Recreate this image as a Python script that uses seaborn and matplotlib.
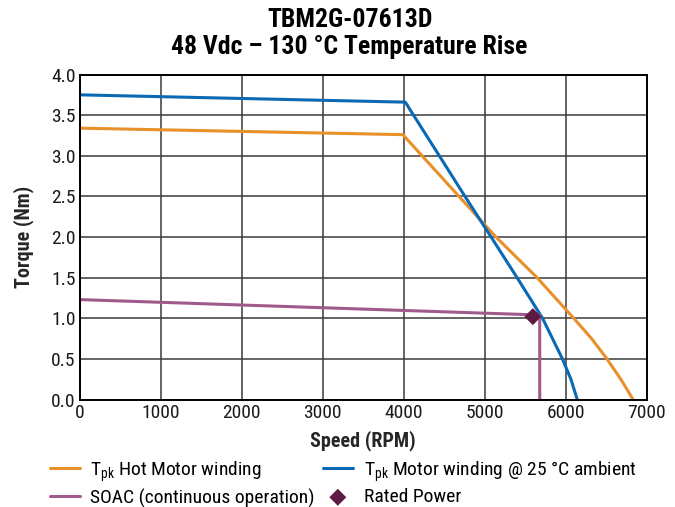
import matplotlib
matplotlib.use("Agg")
import matplotlib.pyplot as plt
import seaborn as sns
import pandas as pd

# Courbes couple / vitesse
hot_speed = [0, 3990, 5140, 5647, 6100, 6320, 6510, 6680, 6760, 6832]
hot_torque = [3.34, 3.26, 2.0, 1.5, 1.0, 0.75, 0.5, 0.25, 0.12, 0.0]

amb_speed = [0, 4020, 4440, 4757, 5080, 5400, 5715, 5960, 6065, 6143]
amb_torque = [3.75, 3.66, 3.0, 2.5, 2.0, 1.5, 1.0, 0.5, 0.25, 0.0]

soac_speed = [0, 5680, 5680]
soac_torque = [1.23, 1.04, 0.0]

rated_speed = [5595]
rated_torque = [1.02]

labels = [
    r"T$_{\mathregular{pk}}$ Hot Motor winding",
    r"T$_{\mathregular{pk}}$ Motor winding @ 25 °C ambient",
    "SOAC (continuous operation)",
    "Rated Power",
]

sns.set_theme(style="white")
plt.rcParams["font.family"] = ["Roboto Condensed", "Liberation Sans Narrow",
                               "Roboto", "DejaVu Sans"]
plt.rcParams["text.color"] = "black"

fig = plt.figure(figsize=(6.75, 5.07), dpi=100)
ax = fig.add_axes([0.118, 0.212, 0.840, 0.641])

hot = pd.DataFrame({"Speed": hot_speed, "Torque": hot_torque})
amb = pd.DataFrame({"Speed": amb_speed, "Torque": amb_torque})
soac = pd.DataFrame({"Speed": soac_speed, "Torque": soac_torque})
rated = pd.DataFrame({"Speed": rated_speed, "Torque": rated_torque})

sns.lineplot(data=hot, x="Speed", y="Torque", color="#e8902a", lw=2.2,
             sort=False, estimator=None, ax=ax, label=labels[0])
sns.lineplot(data=amb, x="Speed", y="Torque", color="#0a69b4", lw=2.2,
             sort=False, estimator=None, ax=ax, label=labels[1])
sns.lineplot(data=soac, x="Speed", y="Torque", color="#a05a8c", lw=2.2,
             sort=False, estimator=None, ax=ax, label=labels[2])
sns.scatterplot(data=rated, x="Speed", y="Torque", color="#5e1a42", marker="D",
                s=75, edgecolor="none", ax=ax, label=labels[3], zorder=5)

ax.set_xlim(0, 7000)
ax.set_ylim(0, 4.0)
ax.set_xticks(range(0, 7001, 1000))
ax.set_yticks([i * 0.5 for i in range(9)])
ax.set_yticklabels([f"{i * 0.5:.1f}" for i in range(9)])
ax.grid(True, color="#3a3a3a", lw=1.1)
ax.set_axisbelow(True)
for s in ax.spines.values():
    s.set_color("black")
    s.set_linewidth(1.4)
ax.tick_params(length=0, labelsize=14, colors="#1a1a1a", pad=3)

ax.set_xlabel("Speed (RPM)", fontsize=14.5, fontweight="bold", labelpad=6)
ax.set_ylabel("Torque (Nm)", fontsize=14.5, fontweight="bold", labelpad=12)

fig.suptitle("TBM2G-07613D\n48 Vdc \u2013 130 °C Temperature Rise",
             x=0.518, y=0.985, fontsize=18.5, fontweight="bold", linespacing=1.2)

handles, labs = ax.get_legend_handles_labels()
ax.legend_.remove()
order = [0, 2, 1, 3]
fig.legend([handles[i] for i in order], [labs[i] for i in order],
           loc="upper left", bbox_to_anchor=(0.062, 0.110),
           ncol=2, frameon=False, fontsize=14, handlelength=1.55,
           handletextpad=0.55, columnspacing=0.4, labelspacing=0.25,
           borderaxespad=0)

fig.savefig("out.png", dpi=100)
